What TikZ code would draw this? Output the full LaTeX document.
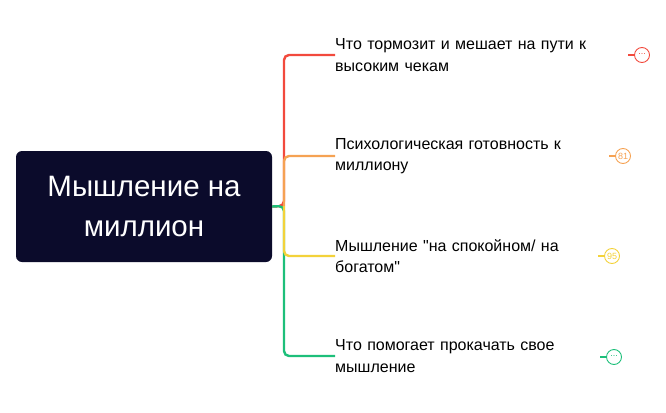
\documentclass[tikz,border=0pt]{standalone}
\usepackage{fontspec}
\setmainfont{Liberation Sans}[Ligatures=TeXOff]
\begin{document}
\begin{tikzpicture}[x=1pt,y=-1pt,
  lbl/.style={anchor=west,align=left,font=\fontsize{16}{21.5}\selectfont,text width=280pt,inner sep=0pt},
  br/.style={line width=2.4pt,rounded corners=5pt},
  tag/.style={circle,draw,line width=0.9pt,minimum size=15pt,inner sep=0pt,font=\fontsize{9}{9}\selectfont}]
\definecolor{navy}{HTML}{0B0B2B}
\definecolor{cR}{HTML}{F24A3D}
\definecolor{cO}{HTML}{F5A253}
\definecolor{cY}{HTML}{F3D23A}
\definecolor{cG}{HTML}{1DBF7A}
\useasboundingbox (0,0) rectangle (666,412);
\node[fill=navy,rounded corners=6pt,minimum width=256pt,minimum height=111pt,inner sep=0pt,text=white,align=center,font=\fontsize{29.5}{40}\selectfont] (root) at (144,206.5) {Мышление на\\миллион};
\node[lbl] (t1) at (335,55) {Что тормозит и мешает на пути к\\высоким чекам};
\node[lbl] (t2) at (335,156) {Психологическая готовность к\\миллиону};
\node[lbl] (t3) at (335,256) {Мышление "на спокойном/ на\\богатом"};
\node[lbl] (t4) at (335,356) {Что помогает прокачать свое\\мышление};
\coordinate (j) at (284,206);
\draw[cR,br] (root.east) -- (j) -- (284,55) -- (t1.west);
\draw[cO,br] (j) -- (284,156) -- (t2.west);
\draw[cG,br] (root.east) -- (j) -- (284,356) -- (t4.west);
\draw[cY,br] (j) -- (284,256) -- (t3.west);
\node[tag,draw=cR,text=cR] (c1) at (642,55) {\raisebox{1.5pt}{...}};
\node[tag,draw=cO,text=cO] (c2) at (623,156) {81};
\node[tag,draw=cY,text=cY] (c3) at (612,256) {95};
\node[tag,draw=cG,text=cG] (c4) at (614,357) {\raisebox{1.5pt}{...}};
\draw[cR,line width=2.4pt] (c1.west) -- ++(-6,0);
\draw[cO,line width=2.4pt] (c2.west) -- ++(-6,0);
\draw[cY,line width=2.4pt] (c3.west) -- ++(-6,0);
\draw[cG,line width=2.4pt] (c4.west) -- ++(-6,0);
\end{tikzpicture}
\end{document}
